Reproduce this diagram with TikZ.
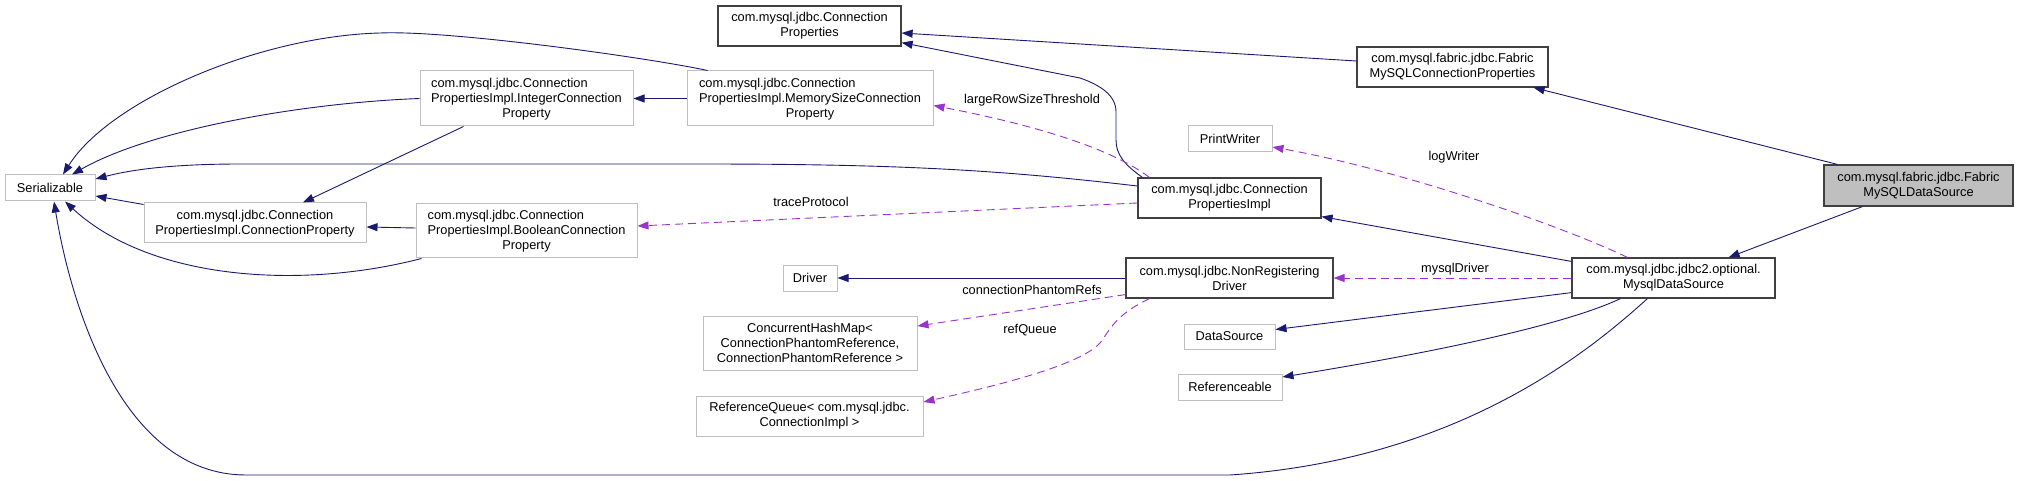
\documentclass[tikz,border=0pt]{standalone}
\usepackage{fontspec}
\setmainfont{Liberation Sans}
\usetikzlibrary{arrows.meta,calc}
\definecolor{inhblue}{HTML}{191970}
\definecolor{usepurple}{HTML}{9A32CD}
\definecolor{docgray}{HTML}{404040}
\definecolor{extgray}{HTML}{BFBFBF}
\newcommand{\lblock}[1]{\begin{tabular}[b]{@{}l@{}}#1\end{tabular}}
\tikzset{
  box/.style={rectangle, inner sep=0pt, align=center, font=\fontsize{12.8}{15}\selectfont},
  dims/.style 2 args={minimum width=#1pt, minimum height=#2pt},
  docbox/.style={box, draw=docgray, line width=1.2pt},
  extbox/.style={box, draw=extgray, line width=1pt},
  inh/.style={draw=inhblue, line width=0.9pt, -{Triangle[length=11pt,width=8pt]}},
  usage/.style={draw=usepurple, line width=0.9pt, dash pattern=on 8pt off 5pt, -{Triangle[length=11pt,width=8pt]}},
  lbl/.style={font=\fontsize{12.8}{15}\selectfont, inner sep=0pt}
}
\begin{document}
\begin{tikzpicture}[x=1pt,y=-1pt]
\useasboundingbox (0,0) rectangle (2019,481);
% classes
\node[extbox, dims={90}{26}] (ser) at (50,188) {Serializable};
\node[extbox, dims={213}{55}] (intprop) at (526.5,98.5) {\lblock{com.mysql.jdbc.Connection\\PropertiesImpl.IntegerConnection}\\Property};
\node[extbox, dims={222}{40}] (connprop) at (255,223) {\lblock{com.mysql.jdbc.Connection}\\PropertiesImpl.ConnectionProperty};
\node[extbox, dims={221}{54}] (boolprop) at (526.5,231) {\lblock{com.mysql.jdbc.Connection\\PropertiesImpl.BooleanConnection}\\Property};
\node[docbox, dims={183}{40}] (cprops) at (809.5,26) {com.mysql.jdbc.Connection\\Properties};
\node[extbox, dims={246}{55}] (memprop) at (810,98.5) {\lblock{com.mysql.jdbc.Connection\\PropertiesImpl.MemorySizeConnection}\\Property};
\node[extbox, dims={84}{26}] (printw) at (1230,139) {PrintWriter};
\node[docbox, dims={183}{40}] (cpimpl) at (1229.5,198) {com.mysql.jdbc.Connection\\PropertiesImpl};
\node[docbox, dims={191}{40}] (fabprops) at (1452.5,67) {com.mysql.fabric.jdbc.Fabric\\MySQLConnectionProperties};
\node[docbox, dims={189}{41}, fill=extgray] (fabds) at (1918.5,185.5) {com.mysql.fabric.jdbc.Fabric\\MySQLDataSource};
\node[extbox, dims={54}{26}] (driver) at (810,278) {Driver};
\node[docbox, dims={207}{40}] (nrdriver) at (1229.5,278) {com.mysql.jdbc.NonRegistering\\Driver};
\node[extbox, dims={214}{54}] (chmap) at (810,343) {ConcurrentHashMap<\\ConnectionPhantomReference,\\ConnectionPhantomReference >};
\node[extbox, dims={227}{40}] (refq) at (809.5,416) {ReferenceQueue< com.mysql.jdbc.\\ConnectionImpl >};
\node[extbox, dims={91}{25}] (datasrc) at (1229.5,336.5) {DataSource};
\node[extbox, dims={104}{26}] (refable) at (1230,387) {Referenceable};
\node[docbox, dims={203}{40}] (mysqlds) at (1673.5,278) {com.mysql.jdbc.jdbc2.optional.\\MysqlDataSource};
% inheritance
\draw[inh] ($(fabds.north west)+(14,0)$) -- ($(fabprops.south east)+(-15,0)$);
\draw[inh] ($(fabds.south west)+(39,0)$) -- ($(mysqlds.north east)+(-47,0)$);
\draw[inh] ($(fabprops.west)+(0,-6)$) -- ($(cprops.east)+(0,7)$);
\draw[inh] ($(cpimpl.north west)+(5,0)$) .. controls (1125,165) and (1116,155) .. (1116,140) -- (1116,112)
  .. controls (1116,95) and (1100,85) .. (1080,78) -- ($(cprops.south east)+(0,-4)$);
\draw[inh] ($(mysqlds.north west)+(0,4)$) -- ($(cpimpl.south east)+(0,-2)$);
\draw[inh] ($(cpimpl.west)+(0,-12)$) .. controls (1000,170) and (900,164) .. (700,164) -- (241,164)
  .. controls (170,164) and (130,170) .. ($(ser.east)+(0,-9)$);
\draw[inh] (nrdriver.west) -- (driver.east);
\draw[inh] ($(mysqlds.south west)+(0,-6)$) -- ($(datasrc.east)+(0,-7)$);
\draw[inh] ($(mysqlds.south west)+(49,0)$) .. controls (1580,318) and (1480,345) .. ($(refable.east)+(0,-10)$);
\draw[inh] ($(mysqlds.south west)+(76,0)$) .. controls (1580,360) and (1450,460) .. (1230,475) -- (246,475)
  .. controls (120,475) and (70,300) .. ($(ser.south)+(4,0)$);
\draw[inh] (memprop.west) -- (intprop.east);
\draw[inh] ($(memprop.north west)+(21,0)$) .. controls (650,58) and (450,30) .. (380,33)
  .. controls (260,36) and (110,100) .. ($(ser.north)+(13,0)$);
\draw[inh] (intprop.west) .. controls (300,103) and (150,130) .. ($(ser.north)+(22,0)$);
\draw[inh] ($(intprop.south west)+(44,0)$) -- ($(connprop.north)+(48,0)$);
\draw[inh] ($(connprop.north west)+(0,2)$) -- ($(ser.east)+(0,8)$);
\draw[inh] ($(boolprop.west)+(0,-3)$) -- ($(connprop.east)+(0,4)$);
\draw[inh] ($(boolprop.south west)+(6,0)$) .. controls (300,290) and (150,280) .. ($(ser.south)+(15,0)$);
% usage
\draw[usage] ($(cpimpl.north west)+(12,0)$) .. controls (1120,155) and (1060,130) .. ($(memprop.east)+(0,7)$);
\draw[usage] ($(cpimpl.west)+(0,5)$) -- ($(boolprop.east)+(0,-5)$);
\draw[usage] ($(mysqlds.north west)+(56,0)$) .. controls (1560,225) and (1400,170) .. ($(printw.east)+(0,8)$);
\draw[usage] (mysqlds.west) -- (nrdriver.east);
\draw[usage] ($(nrdriver.south west)+(0,-4)$) -- ($(chmap.east)+(0,-17)$);
\draw[usage] ($(nrdriver.south west)+(24,0)$) .. controls (1115,315) and (1110,330) .. (1100,343)
  .. controls (1080,365) and (1000,385) .. ($(refq.east)+(0,-14)$);
% labels
\node[lbl] (lrst) at (1032,100) {largeRowSizeThreshold};
\node[lbl] (tproto) at (811,202) {traceProtocol};
\node[lbl] (logw) at (1454,157) {logWriter};
\node[lbl] (mdrv) at (1455,269) {mysqlDriver};
\node[lbl] (cpref) at (1032,290) {connectionPhantomRefs};
\node[lbl] (rqueue) at (1030,330) {refQueue};
\end{tikzpicture}
\end{document}
